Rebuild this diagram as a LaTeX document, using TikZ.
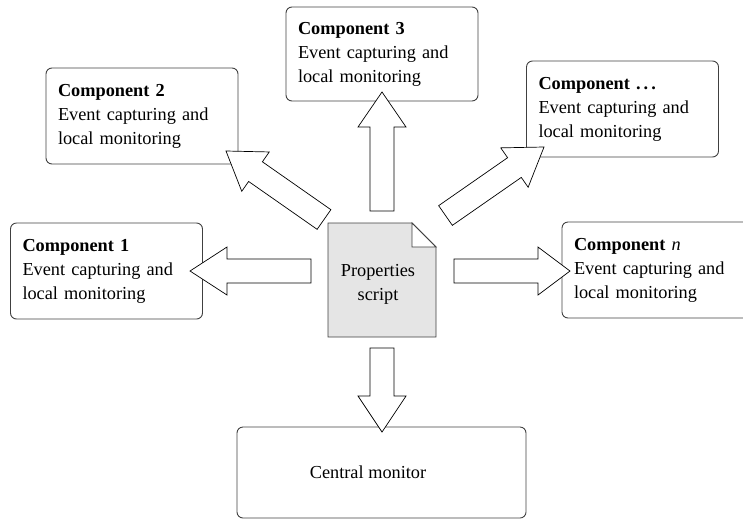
\documentclass[tikz,border=0pt]{standalone}
\usepackage{fontspec}
\setmainfont{Liberation Serif}
\usetikzlibrary{calc}
\tikzset{
  txt/.style={font=\fontsize{18.3}{24}\selectfont},
  compbox/.style={txt, draw=black!75, line width=0.9pt, rounded corners=6pt,
    minimum width=192pt, minimum height=96pt, text width=168pt,
    inner xsep=12pt, align=left},
  docbody/.style={draw=black!75, line width=0.9pt, fill=black!10, line join=miter},
  blockarr/.style={draw=black, fill=white, line width=0.7pt, line join=miter},
}
% #1 head length, #2 tail coordinate, #3 tip coordinate
\newcommand\blockarrow[3][35pt]{%
  \coordinate (hb) at ($(#3)!#1!(#2)$);
  \draw[blockarr] ($(#2)!12pt!90:(#3)$) -- ($(hb)!12pt!-90:(#2)$)
    -- ($(hb)!24pt!-90:(#2)$) -- (#3) -- ($(hb)!24pt!90:(#2)$)
    -- ($(hb)!12pt!90:(#2)$) -- ($(#2)!12pt!-90:(#3)$) -- cycle;}
\begin{document}
\begin{tikzpicture}[x=1pt, y=-1pt]
  \useasboundingbox (0,0) rectangle (743,520);
  \clip (0,0) rectangle (743,520);

  % component boxes
  \node[compbox] (c2) at (142,116) {\textbf{Component 2}\\Event capturing and\\local monitoring};
  \node[compbox, minimum height=94pt] (c3) at (382,54) {\textbf{Component 3}\\Event capturing and\\local monitoring};
  \node[compbox] (cdots) at (622.5,109) {\textbf{Component .\,.\,.}\\Event capturing and\\local monitoring};
  \node[compbox] (c1) at (106.5,271) {\textbf{Component 1}\\Event capturing and\\local monitoring};
  \node[compbox] (cn) at (658,270) {\textbf{Component} \textit{n}\\Event capturing and\\local monitoring};
  \node[txt, draw=black!75, line width=0.9pt, rounded corners=6pt,
        minimum width=289pt, minimum height=91pt] (central) at (381.5,472.5)
        {Central monitor\hspace*{27pt}};

  % properties script document
  \coordinate (dTL) at (328,223);
  \coordinate (dF1) at (412,223);
  \coordinate (dF2) at (436,247);
  \coordinate (dBR) at (436,337);
  \coordinate (dBL) at (328,337);
  \coordinate (dFC) at (412,247);
  \draw[docbody] (dTL) -- (dF1) -- (dF2) -- (dBR) -- (dBL) -- cycle;
  \draw[draw=black!75, line width=0.9pt, fill=white, line join=miter] (dF1) -- (dFC) -- (dF2) -- cycle;
  \node[txt, align=center] (script) at (378,284) {Properties\\script};

  % arrow end points
  \coordinate (upT) at (382,211);   \coordinate (upH) at (382,92);
  \coordinate (dnT) at (382,348);   \coordinate (dnH) at (382,432);
  \coordinate (lfT) at (311,271);   \coordinate (lfH) at (190,271);
  \coordinate (rtT) at (454,271);   \coordinate (rtH) at (570,271);
  \coordinate (ulT) at (324,219.5); \coordinate (ulH) at (226,151);
  \coordinate (urT) at (445.5,215.5); \coordinate (urH) at (544,147);

  \blockarrow{upT}{upH}
  \blockarrow[36pt]{dnT}{dnH}
  \blockarrow[37pt]{lfT}{lfH}
  \blockarrow[32pt]{rtT}{rtH}
  \blockarrow[36pt]{ulT}{ulH}
  \blockarrow[36pt]{urT}{urH}
\end{tikzpicture}
\end{document}
